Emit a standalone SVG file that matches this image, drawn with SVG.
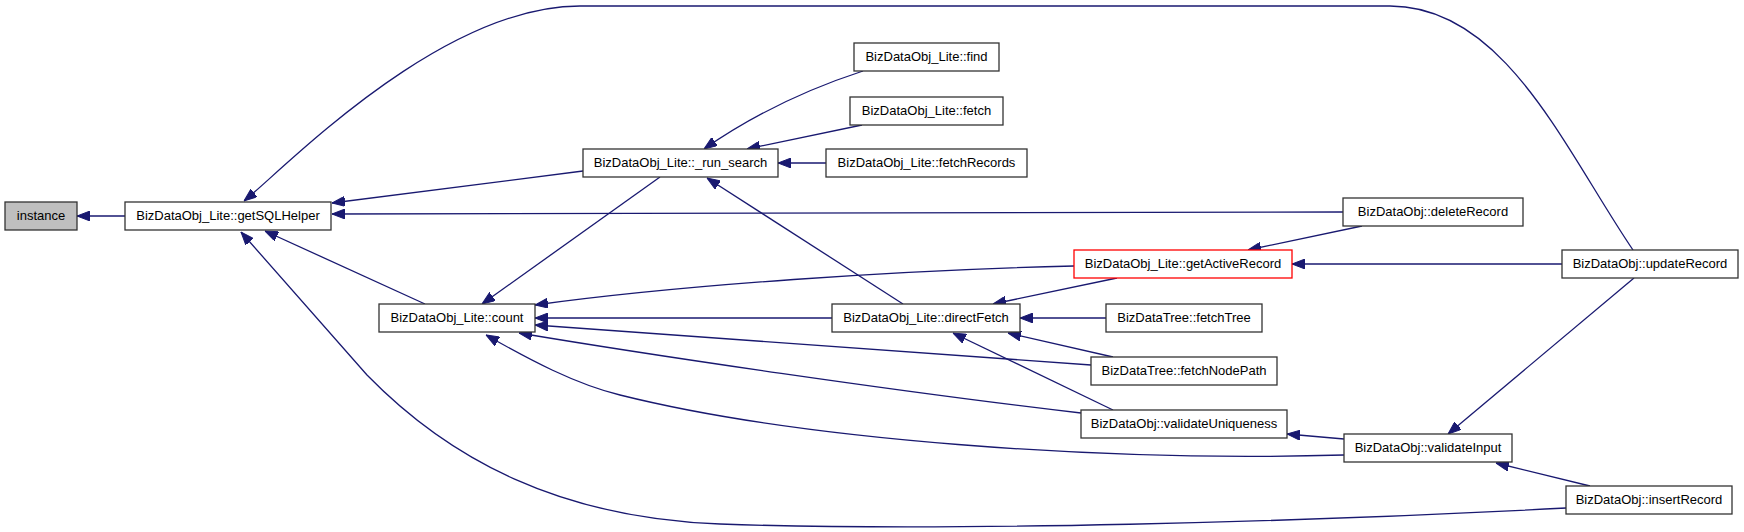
<svg xmlns="http://www.w3.org/2000/svg" width="1744" height="532" viewBox="0 0 1744 532">
<style>
.n rect{fill:#fff;stroke:#333;stroke-width:1.3}
.n text{font-family:"Liberation Sans",Arial,sans-serif;font-size:13px;fill:#000;text-anchor:middle}
.e path{fill:none;stroke:#191970;stroke-width:1.3;marker-end:url(#ah)}
</style>
<defs>
<marker id="ah" viewBox="0 0 13 10" refX="13" refY="5" markerWidth="13" markerHeight="10" markerUnits="userSpaceOnUse" orient="auto">
<path d="M0,0 L13,5 L0,10 z" fill="#191970" stroke="#191970" stroke-width="1"/>
</marker>
</defs>
<rect width="1744" height="532" fill="#fff"/>
<g id="edges" class="e">
<path d="M125,216 L77,216"/>
<path d="M583,171 L332,203"/>
<path d="M1343,212 L332,214"/>
<path d="M425,304 L265,231"/>
<path d="M1633,250 C1565,150 1505,6 1390,6 L580,6 C440,6 285,168 244,201"/>
<path d="M1566,508 C1300,522 950,532 720,524 C560,518 450,460 367,375 L241,232"/>
<path d="M863,71 C820,85 760,110 704,149"/>
<path d="M862,125 L747,149"/>
<path d="M826,163 L778,163"/>
<path d="M660,177 L482,304"/>
<path d="M903,304 L707,178"/>
<path d="M1074,266 C900,270 680,285 535,305"/>
<path d="M832,318 L535,318"/>
<path d="M1091,365 L535,325"/>
<path d="M1081,413 C900,392 650,355 519,333"/>
<path d="M1344,455 C1100,462 800,440 620,395 C575,384 530,360 486,335"/>
<path d="M1117,278 L993,304"/>
<path d="M1106,318 L1020,318"/>
<path d="M1113,357 L1008,333"/>
<path d="M1113,410 L953,333"/>
<path d="M1362,226 L1248,250"/>
<path d="M1562,264 L1292,264"/>
<path d="M1344,439 L1287,434"/>
<path d="M1634,278 L1448,434"/>
<path d="M1590,486 L1496,463"/>
</g>
<g id="instance" class="n"><rect x="5" y="202" width="72" height="28" style="fill:#bfbfbf"/><text x="41" y="220">instance</text></g>
<g id="getSQLHelper" class="n"><rect x="125" y="202" width="206" height="28"/><text x="228" y="220">BizDataObj_Lite::getSQLHelper</text></g>
<g id="run_search" class="n"><rect x="583" y="149" width="195" height="28"/><text x="680.5" y="167">BizDataObj_Lite::_run_search</text></g>
<g id="find" class="n"><rect x="854" y="43" width="145" height="28"/><text x="926.5" y="61">BizDataObj_Lite::find</text></g>
<g id="fetch" class="n"><rect x="850" y="97" width="153" height="28"/><text x="926.5" y="115">BizDataObj_Lite::fetch</text></g>
<g id="fetchRecords" class="n"><rect x="826" y="149" width="201" height="28"/><text x="926.5" y="167">BizDataObj_Lite::fetchRecords</text></g>
<g id="count" class="n"><rect x="379" y="304" width="156" height="28"/><text x="457" y="322">BizDataObj_Lite::count</text></g>
<g id="directFetch" class="n"><rect x="832" y="304" width="188" height="28"/><text x="926" y="322">BizDataObj_Lite::directFetch</text></g>
<g id="getActiveRecord" class="n"><rect x="1074" y="250" width="218" height="28" style="stroke:#ff0000"/><text x="1183" y="268">BizDataObj_Lite::getActiveRecord</text></g>
<g id="deleteRecord" class="n"><rect x="1343" y="198" width="180" height="28"/><text x="1433" y="216">BizDataObj::deleteRecord</text></g>
<g id="updateRecord" class="n"><rect x="1562" y="250" width="176" height="28"/><text x="1650" y="268">BizDataObj::updateRecord</text></g>
<g id="fetchTree" class="n"><rect x="1106" y="304" width="156" height="28"/><text x="1184" y="322">BizDataTree::fetchTree</text></g>
<g id="fetchNodePath" class="n"><rect x="1091" y="357" width="186" height="28"/><text x="1184" y="375">BizDataTree::fetchNodePath</text></g>
<g id="validateUniqueness" class="n"><rect x="1081" y="410" width="206" height="28"/><text x="1184" y="428">BizDataObj::validateUniqueness</text></g>
<g id="validateInput" class="n"><rect x="1344" y="434" width="168" height="28"/><text x="1428" y="452">BizDataObj::validateInput</text></g>
<g id="insertRecord" class="n"><rect x="1566" y="486" width="166" height="28"/><text x="1649" y="504">BizDataObj::insertRecord</text></g>
</svg>
